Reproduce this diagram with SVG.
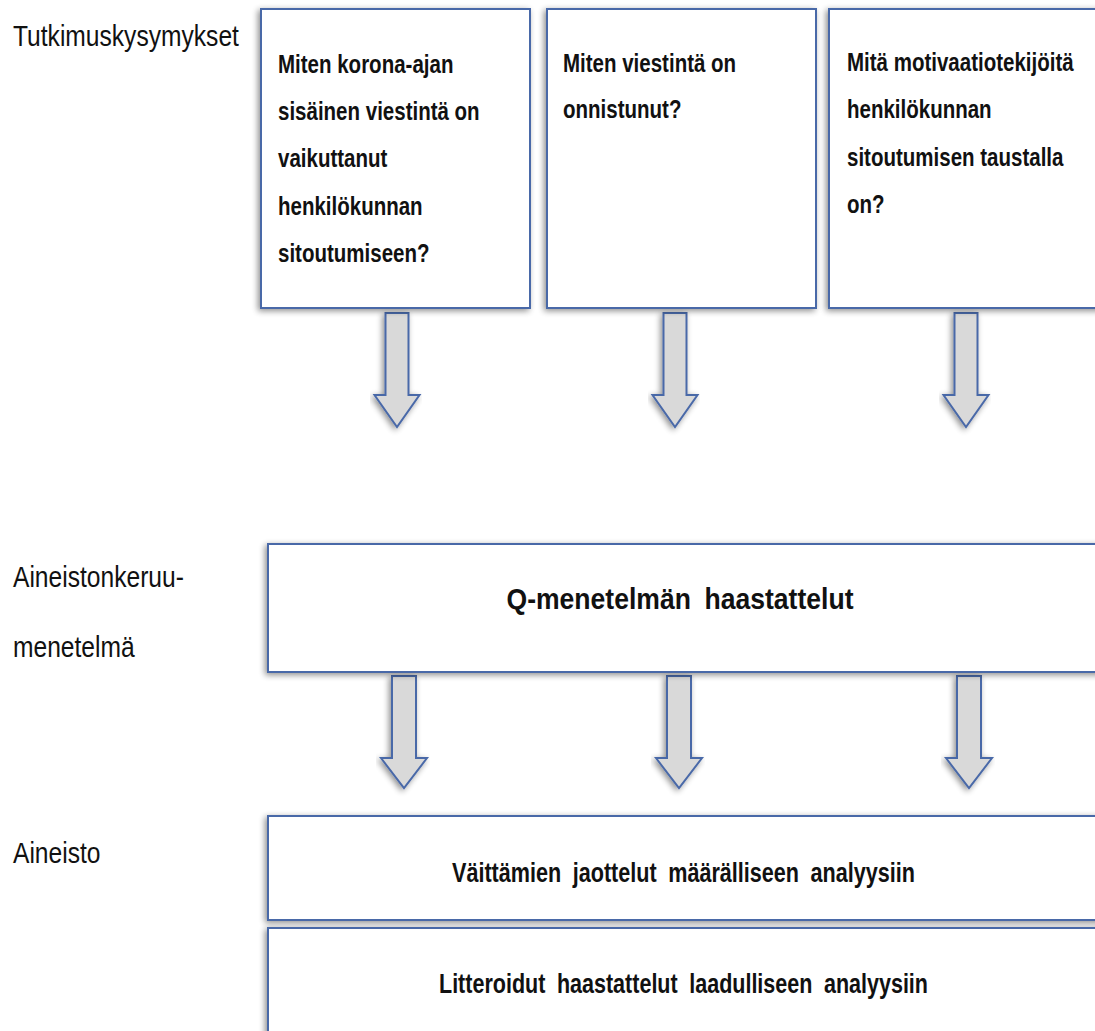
<svg xmlns="http://www.w3.org/2000/svg" width="1095" height="1031" viewBox="0 0 1095 1031">
<defs>
<filter id="sh" x="-10%" y="-10%" width="120%" height="120%">
<feGaussianBlur in="SourceAlpha" stdDeviation="3"/>
<feOffset dx="-2" dy="2" result="b"/>
<feComponentTransfer><feFuncA type="linear" slope="0.45"/></feComponentTransfer>
<feMerge><feMergeNode/><feMergeNode in="SourceGraphic"/></feMerge>
</filter>
<style>
.box{fill:#ffffff;stroke:#4a69a8;stroke-width:2;filter:url(#sh)}
.arr{fill:#d9d9d9;stroke:#4a69a8;stroke-width:2;stroke-linejoin:miter;filter:url(#sh)}
.q{font-family:"Liberation Sans",Arial,sans-serif;font-weight:bold;font-size:25px;fill:#111}
.lbl{font-family:"Liberation Sans",Arial,sans-serif;font-size:30px;fill:#111}
.c{font-family:"Liberation Sans",Arial,sans-serif;font-weight:bold;fill:#111;text-anchor:middle;word-spacing:7px}
</style>
</defs>
<rect width="1095" height="1031" fill="#ffffff"/>

<g id="labels">
<text class="lbl" transform="matrix(0.82,0,0,1,13,0)"><tspan x="0" y="46">Tutkimuskysymykset</tspan></text>
<text class="lbl" transform="matrix(0.82,0,0,1,13,0)"><tspan x="0" y="587">Aineistonkeruu-</tspan><tspan x="0" y="657">menetelmä</tspan></text>
<text class="lbl" transform="matrix(0.82,0,0,1,13,0)"><tspan x="0" y="863">Aineisto</tspan></text>
</g>

<g id="connectors">
<path class="arr" d="M385.5,313 H408.5 V395 H419.5 L397,427 L374.5,395 H385.5 Z"/>
<path class="arr" d="M663.5,313 H686.5 V395 H697.5 L675,427 L652.5,395 H663.5 Z"/>
<path class="arr" d="M954.5,313 H977.5 V395 H988.5 L966,427 L943.5,395 H954.5 Z"/>
<path class="arr" d="M392,676 H416 V758 H427 L404,788 L381,758 H392 Z"/>
<path class="arr" d="M667,676 H691 V758 H702 L679,788 L656,758 H667 Z"/>
<path class="arr" d="M957,676 H981 V758 H992 L969,788 L946,758 H957 Z"/>
</g>

<g id="q1">
<rect class="box" x="261" y="9" width="269" height="299"/>
<text class="q" transform="matrix(0.82,0,0,1,278,0)"><tspan x="0" y="72.5">Miten korona-ajan</tspan><tspan x="0" y="120">sisäinen viestintä on</tspan><tspan x="0" y="167.5">vaikuttanut</tspan><tspan x="0" y="215">henkilökunnan</tspan><tspan x="0" y="262.5">sitoutumiseen?</tspan></text>
</g>

<g id="q2">
<rect class="box" x="547" y="9" width="269" height="299"/>
<text class="q" transform="matrix(0.82,0,0,1,563,0)"><tspan x="0" y="72">Miten viestintä on</tspan><tspan x="0" y="118.5">onnistunut?</tspan></text>
</g>

<g id="q3">
<rect class="box" x="829" y="9" width="290" height="299"/>
<text class="q" transform="matrix(0.82,0,0,1,847,0)"><tspan x="0" y="71.5">Mitä motivaatiotekijöitä</tspan><tspan x="0" y="118.5">henkilökunnan</tspan><tspan x="0" y="166">sitoutumisen taustalla</tspan><tspan x="0" y="213">on?</tspan></text>
</g>

<g id="method">
<rect class="box" x="268" y="544" width="850" height="128"/>
<text class="c" x="680" y="609" font-size="30" textLength="347" lengthAdjust="spacingAndGlyphs">Q-menetelmän haastattelut</text>
</g>

<g id="data1">
<rect class="box" x="268" y="816" width="850" height="104"/>
<text class="c" x="683.5" y="882" font-size="27" textLength="463" lengthAdjust="spacingAndGlyphs">Väittämien jaottelut määrälliseen analyysiin</text>
</g>

<g id="data2">
<rect class="box" x="268" y="928" width="850" height="120"/>
<text class="c" x="683.5" y="993" font-size="27" textLength="489" lengthAdjust="spacingAndGlyphs">Litteroidut haastattelut laadulliseen analyysiin</text>
</g>
</svg>
